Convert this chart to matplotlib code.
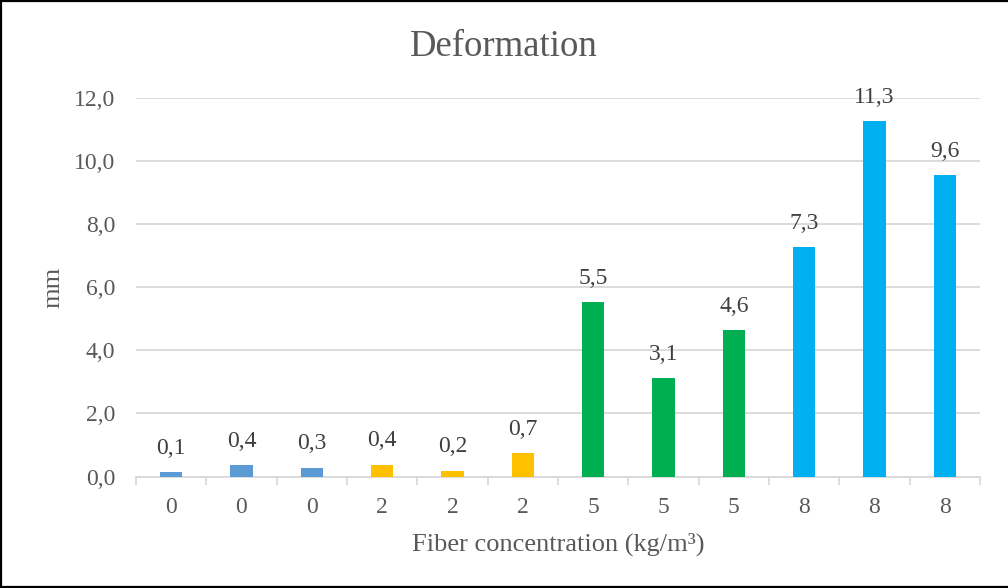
import matplotlib
matplotlib.use("Agg")
import matplotlib.pyplot as plt
from matplotlib.lines import Line2D
import numpy as np

plt.rcParams['font.family'] = ['Liberation Serif', 'DejaVu Serif']

categories = ["0", "0", "0", "2", "2", "2", "5", "5", "5", "8", "8", "8"]
values = [0.14, 0.37, 0.28, 0.38, 0.19, 0.74, 5.54, 3.12, 4.63, 7.28, 11.28, 9.56]
bar_colors = ["#5B9BD5"] * 3 + ["#FFC000"] * 3 + ["#00B050"] * 3 + ["#00B0F0"] * 3
yticks = [0, 2, 4, 6, 8, 10, 12]
title = "Deformation"
xlabel = "Fiber concentration (kg/m³)"
ylabel = "mm"

TXT = "#595959"
GRID = "#D9D9D9"

fig = plt.figure(figsize=(10.08, 5.88), dpi=100)
ax = fig.add_axes([0.1349, 0.1896, 0.9722 - 0.1349, 0.8333 - 0.1896])

x = np.arange(len(values))
ax.bar(x, values, width=0.32, color=bar_colors, zorder=3)

for xi, v in zip(x, values):
    ax.annotate(f"{v:.1f}".replace(".", ","), (xi, v), xytext=(0, 9.5),
                textcoords="offset points", ha="center", va="bottom",
                fontsize=17, color="#404040", zorder=4)

ax.set_xlim(-0.5, len(values) - 0.5)
ax.set_ylim(0, 12)
ax.set_yticks(yticks)
ax.set_yticklabels([f"{t:.1f}".replace(".", ",") for t in yticks])
ax.yaxis.grid(True, color=GRID, linewidth=1.3, zorder=0)
ax.set_axisbelow(True)

ax.set_xticks(x)
ax.set_xticklabels(categories)
ax.set_xticks(np.arange(len(values) + 1) - 0.5, minor=True)
ax.tick_params(axis="x", which="major", length=0, pad=15, labelsize=17, labelcolor=TXT)
ax.tick_params(axis="x", which="minor", length=6, width=1.3, color=GRID, direction="out")
ax.tick_params(axis="y", length=0, pad=15, labelsize=17, labelcolor=TXT)

for s in ["top", "right", "left"]:
    ax.spines[s].set_visible(False)
ax.spines["bottom"].set_color(GRID)
ax.spines["bottom"].set_linewidth(1.3)

ax.set_xlabel(xlabel, fontsize=19, color=TXT, labelpad=10.5)
ax.set_ylabel(ylabel, fontsize=19, color=TXT, labelpad=7)
fig.text(0.5, 1 - 47 / 588, title, ha="center", va="center", fontsize=26.5, color=TXT)

# outer frame
for xs, ys in [([0.001, 0.001], [0, 1]), ([0, 1], [0.999, 0.999]), ([0, 1], [0.0015, 0.0015])]:
    fig.add_artist(Line2D(xs, ys, transform=fig.transFigure, color="#000000", linewidth=1.6))

fig.savefig("out.png", dpi=100)
